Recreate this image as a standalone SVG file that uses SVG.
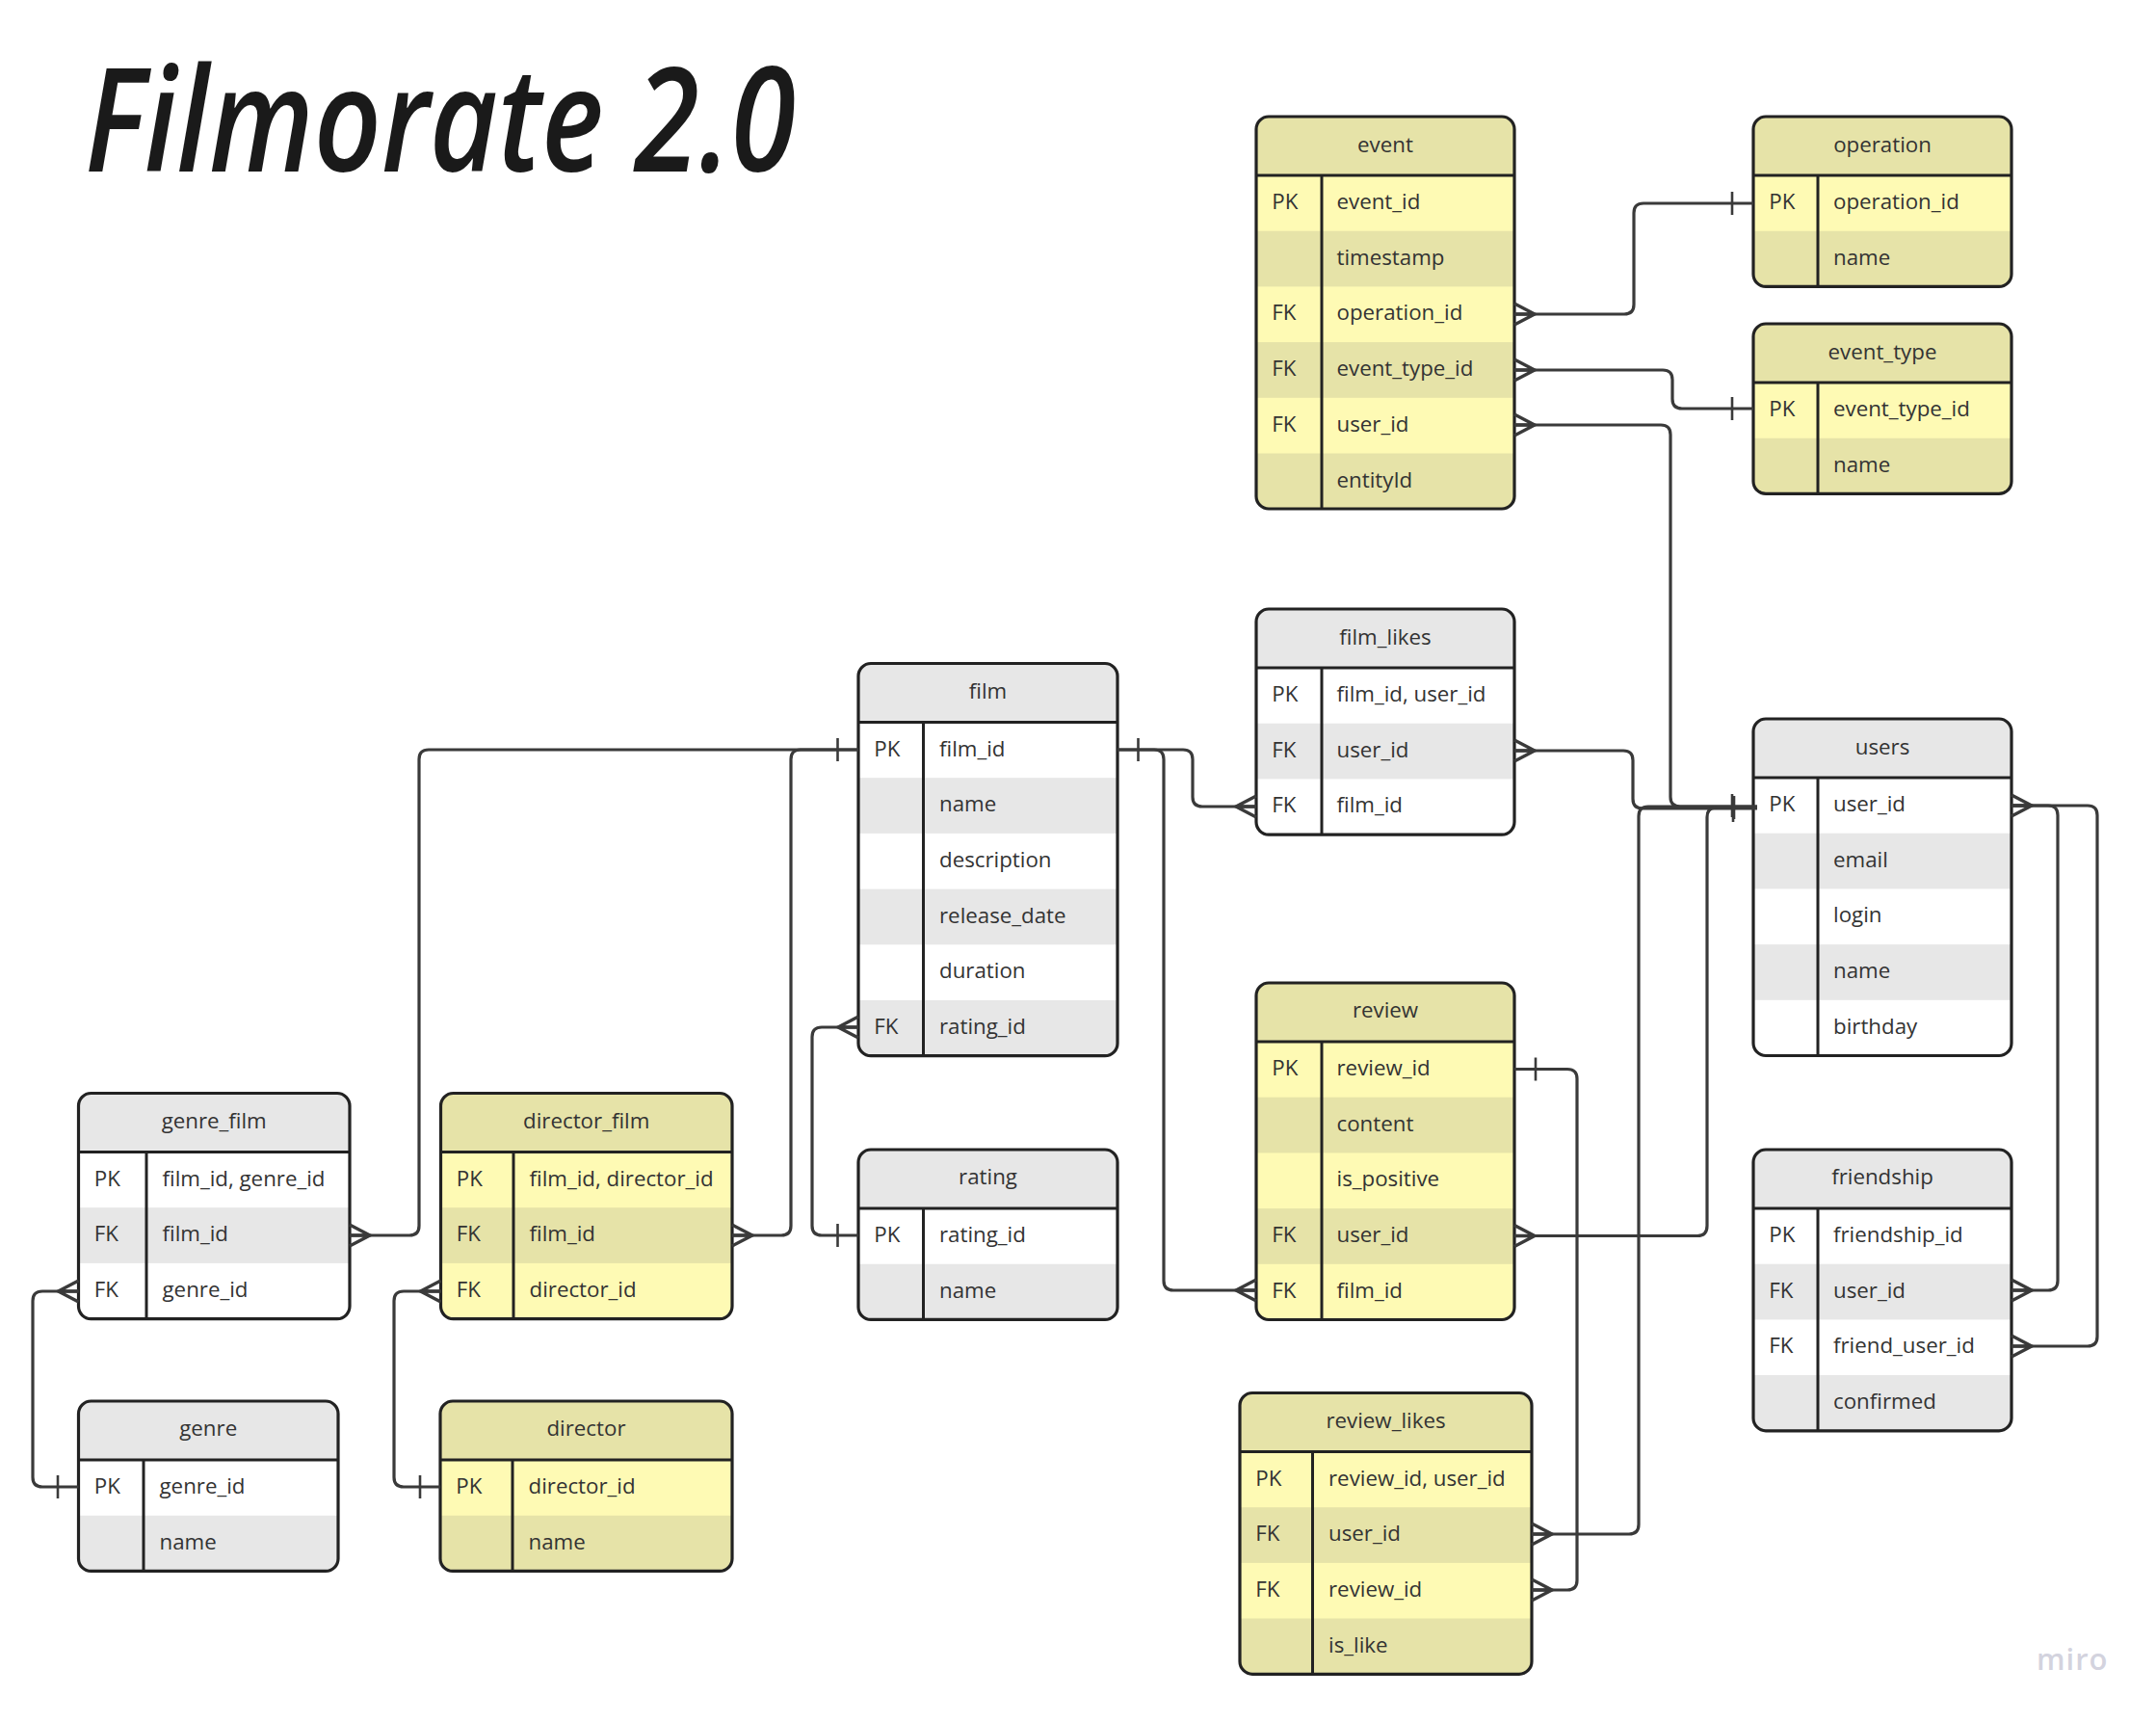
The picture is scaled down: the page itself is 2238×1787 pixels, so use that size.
<svg xmlns="http://www.w3.org/2000/svg" xmlns:xlink="http://www.w3.org/1999/xlink" width="2238" height="1787" viewBox="0 0 2238 1787">
<style>
text{font-family:"Open Sans","Noto Sans","Liberation Sans",sans-serif;font-size:22.3px;fill:#333}
.h{text-anchor:middle}
.title{font-family:"Open Sans","Liberation Sans",sans-serif;font-size:150px;font-weight:600;font-style:italic;fill:#1a1a1a}
.miro{font-family:"Open Sans","Noto Sans",sans-serif;font-size:31px;font-weight:600;fill:#d3d3de;letter-spacing:1px}
.b{fill:none;stroke:#222;stroke-width:3.2}
.l{stroke:#222;stroke-width:3;fill:none}
.wt{fill:#fff}.gh{fill:#e7e7e7}.yl{fill:#fefab4}.yh{fill:#e6e3a8}
.c path{fill:none;stroke:#3a3a3a;stroke-width:3.2}
.k{fill:none;stroke:#3a3a3a;stroke-width:3.4}
.bar{fill:none;stroke:#3a3a3a;stroke-width:2.6}
</style>
<defs>
<path id="cr" class="k" d="M0 -11L21 0L0 11M0 0H21"/>
<path id="cl" class="k" d="M0 -11L-21 0L0 11M0 0H-21"/>
<path id="bar" class="bar" d="M0 -12V12"/>
</defs>
<rect width="2238" height="1787" fill="#fff"/>
<text class="title" x="88" y="178" textLength="738" lengthAdjust="spacingAndGlyphs">Filmorate 2.0</text>
<text class="miro" x="2114" y="1733">miro</text>

<g id="event" transform="translate(1304,121)">
<rect class="yl" width="268" height="407" rx="13"/>
<path class="yh" d="M0 61V13a13 13 0 0 1 13-13H255a13 13 0 0 1 13 13V61Z"/>
<rect class="yh" y="118.7" width="268" height="57.7"/><rect class="yh" y="234.1" width="268" height="57.7"/>
<path class="yh" d="M0 349.5H268V394a13 13 0 0 1-13 13H13a13 13 0 0 1-13-13Z"/>
<path class="l" d="M0 61H268M68 61V407"/><rect class="b" width="268" height="407" rx="13"/>
<text class="h" x="134" y="36.5">event</text>
<text x="16.3" y="96">PK</text><text x="83.5" y="96">event_id</text>
<text x="83.5" y="153.7">timestamp</text>
<text x="16.3" y="211.4">FK</text><text x="83.5" y="211.4">operation_id</text>
<text x="16.3" y="269.1">FK</text><text x="83.5" y="269.1">event_type_id</text>
<text x="16.3" y="326.8">FK</text><text x="83.5" y="326.8">user_id</text>
<text x="83.5" y="384.5">entityId</text>
</g>

<g id="operation" transform="translate(1820,121)">
<rect class="yl" width="268" height="176.4" rx="13"/>
<path class="yh" d="M0 61V13a13 13 0 0 1 13-13H255a13 13 0 0 1 13 13V61Z"/>
<path class="yh" d="M0 118.7H268V163.4a13 13 0 0 1-13 13H13a13 13 0 0 1-13-13Z"/>
<path class="l" d="M0 61H268M67 61V176.4"/><rect class="b" width="268" height="176.4" rx="13"/>
<text class="h" x="134" y="36.5">operation</text>
<text x="16.3" y="96">PK</text><text x="83" y="96">operation_id</text>
<text x="83" y="153.7">name</text>
</g>

<g id="event_type" transform="translate(1820,336)">
<rect class="yl" width="268" height="176.4" rx="13"/>
<path class="yh" d="M0 61V13a13 13 0 0 1 13-13H255a13 13 0 0 1 13 13V61Z"/>
<path class="yh" d="M0 118.7H268V163.4a13 13 0 0 1-13 13H13a13 13 0 0 1-13-13Z"/>
<path class="l" d="M0 61H268M67 61V176.4"/><rect class="b" width="268" height="176.4" rx="13"/>
<text class="h" x="134" y="36.5">event_type</text>
<text x="16.3" y="96">PK</text><text x="83" y="96">event_type_id</text>
<text x="83" y="153.7">name</text>
</g>

<g id="film_likes" transform="translate(1304,632)">
<rect class="wt" width="268" height="234.1" rx="13"/>
<path class="gh" d="M0 61V13a13 13 0 0 1 13-13H255a13 13 0 0 1 13 13V61Z"/>
<rect class="gh" y="118.7" width="268" height="57.7"/>
<path class="l" d="M0 61H268M68 61V234.1"/><rect class="b" width="268" height="234.1" rx="13"/>
<text class="h" x="134" y="36.5">film_likes</text>
<text x="16.3" y="96">PK</text><text x="83.5" y="96">film_id, user_id</text>
<text x="16.3" y="153.7">FK</text><text x="83.5" y="153.7">user_id</text>
<text x="16.3" y="211.4">FK</text><text x="83.5" y="211.4">film_id</text>
</g>

<g id="film" transform="translate(891,688.5)">
<rect class="wt" width="269" height="407.2" rx="13"/>
<path class="gh" d="M0 61V13a13 13 0 0 1 13-13H256a13 13 0 0 1 13 13V61Z"/>
<rect class="gh" y="118.7" width="269" height="57.7"/><rect class="gh" y="234.1" width="269" height="57.7"/>
<path class="gh" d="M0 349.5H269V394.2a13 13 0 0 1-13 13H13a13 13 0 0 1-13-13Z"/>
<path class="l" d="M0 61H269M67.5 61V407.2"/><rect class="b" width="269" height="407.2" rx="13"/>
<text class="h" x="134.5" y="36">film</text>
<text x="16.3" y="96">PK</text><text x="84" y="96">film_id</text>
<text x="84" y="153.7">name</text>
<text x="84" y="211.4">description</text>
<text x="84" y="269.1">release_date</text>
<text x="84" y="326.8">duration</text>
<text x="16.3" y="384.5">FK</text><text x="84" y="384.5">rating_id</text>
</g>

<g id="users" transform="translate(1820,746)">
<rect class="wt" width="268" height="349.5" rx="13"/>
<path class="gh" d="M0 61V13a13 13 0 0 1 13-13H255a13 13 0 0 1 13 13V61Z"/>
<rect class="gh" y="118.7" width="268" height="57.7"/><rect class="gh" y="234.1" width="268" height="57.7"/>
<path class="l" d="M0 61H268M67 61V349.5"/><rect class="b" width="268" height="349.5" rx="13"/>
<text class="h" x="134" y="36.5">users</text>
<text x="16.3" y="96">PK</text><text x="83" y="96">user_id</text>
<text x="83" y="153.7">email</text>
<text x="83" y="211.4">login</text>
<text x="83" y="269.1">name</text>
<text x="83" y="326.8">birthday</text>
</g>

<g id="review" transform="translate(1304,1020)">
<rect class="yl" width="268" height="349.5" rx="13"/>
<path class="yh" d="M0 61V13a13 13 0 0 1 13-13H255a13 13 0 0 1 13 13V61Z"/>
<rect class="yh" y="118.7" width="268" height="57.7"/><rect class="yh" y="234.1" width="268" height="57.7"/>
<path class="l" d="M0 61H268M68 61V349.5"/><rect class="b" width="268" height="349.5" rx="13"/>
<text class="h" x="134" y="36">review</text>
<text x="16.3" y="96">PK</text><text x="83.5" y="96">review_id</text>
<text x="83.5" y="153.7">content</text>
<text x="83.5" y="211.4">is_positive</text>
<text x="16.3" y="269.1">FK</text><text x="83.5" y="269.1">user_id</text>
<text x="16.3" y="326.8">FK</text><text x="83.5" y="326.8">film_id</text>
</g>

<g id="rating" transform="translate(891,1193)">
<rect class="wt" width="269" height="176.4" rx="13"/>
<path class="gh" d="M0 61V13a13 13 0 0 1 13-13H256a13 13 0 0 1 13 13V61Z"/>
<path class="gh" d="M0 118.7H269V163.4a13 13 0 0 1-13 13H13a13 13 0 0 1-13-13Z"/>
<path class="l" d="M0 61H269M67.5 61V176.4"/><rect class="b" width="269" height="176.4" rx="13"/>
<text class="h" x="134.5" y="36">rating</text>
<text x="16.3" y="96">PK</text><text x="84" y="96">rating_id</text>
<text x="84" y="153.7">name</text>
</g>

<g id="friendship" transform="translate(1820,1193)">
<rect class="wt" width="268" height="291.8" rx="13"/>
<path class="gh" d="M0 61V13a13 13 0 0 1 13-13H255a13 13 0 0 1 13 13V61Z"/>
<rect class="gh" y="118.7" width="268" height="57.7"/>
<path class="gh" d="M0 234.1H268V278.8a13 13 0 0 1-13 13H13a13 13 0 0 1-13-13Z"/>
<path class="l" d="M0 61H268M67 61V291.8"/><rect class="b" width="268" height="291.8" rx="13"/>
<text class="h" x="134" y="36">friendship</text>
<text x="16.3" y="96">PK</text><text x="83" y="96">friendship_id</text>
<text x="16.3" y="153.7">FK</text><text x="83" y="153.7">user_id</text>
<text x="16.3" y="211.4">FK</text><text x="83" y="211.4">friend_user_id</text>
<text x="83" y="269.1">confirmed</text>
</g>

<g id="review_likes" transform="translate(1287,1445.5)">
<rect class="yl" width="303" height="291.8" rx="13"/>
<path class="yh" d="M0 61V13a13 13 0 0 1 13-13H290a13 13 0 0 1 13 13V61Z"/>
<rect class="yh" y="118.7" width="303" height="57.7"/>
<path class="yh" d="M0 234.1H303V278.8a13 13 0 0 1-13 13H13a13 13 0 0 1-13-13Z"/>
<path class="l" d="M0 61H303M75.5 61V291.8"/><rect class="b" width="303" height="291.8" rx="13"/>
<text class="h" x="151.5" y="36">review_likes</text>
<text x="16.3" y="96">PK</text><text x="92" y="96">review_id, user_id</text>
<text x="16.3" y="153.7">FK</text><text x="92" y="153.7">user_id</text>
<text x="16.3" y="211.4">FK</text><text x="92" y="211.4">review_id</text>
<text x="92" y="269.1">is_like</text>
</g>

<g id="genre_film" transform="translate(81.5,1134.5)">
<rect class="wt" width="281.5" height="234.1" rx="13"/>
<path class="gh" d="M0 61V13a13 13 0 0 1 13-13H268.5a13 13 0 0 1 13 13V61Z"/>
<rect class="gh" y="118.7" width="281.5" height="57.7"/>
<path class="l" d="M0 61H281.5M70.5 61V234.1"/><rect class="b" width="281.5" height="234.1" rx="13"/>
<text class="h" x="140.7" y="36">genre_film</text>
<text x="16.3" y="96">PK</text><text x="87" y="96">film_id, genre_id</text>
<text x="16.3" y="153.7">FK</text><text x="87" y="153.7">film_id</text>
<text x="16.3" y="211.4">FK</text><text x="87" y="211.4">genre_id</text>
</g>

<g id="director_film" transform="translate(457.5,1134.5)">
<rect class="yl" width="302.5" height="234.1" rx="13"/>
<path class="yh" d="M0 61V13a13 13 0 0 1 13-13H289.5a13 13 0 0 1 13 13V61Z"/>
<rect class="yh" y="118.7" width="302.5" height="57.7"/>
<path class="l" d="M0 61H302.5M75.5 61V234.1"/><rect class="b" width="302.5" height="234.1" rx="13"/>
<text class="h" x="151.2" y="36">director_film</text>
<text x="16.3" y="96">PK</text><text x="92" y="96">film_id, director_id</text>
<text x="16.3" y="153.7">FK</text><text x="92" y="153.7">film_id</text>
<text x="16.3" y="211.4">FK</text><text x="92" y="211.4">director_id</text>
</g>

<g id="genre" transform="translate(81.5,1454)">
<rect class="wt" width="269.5" height="176.4" rx="13"/>
<path class="gh" d="M0 61V13a13 13 0 0 1 13-13H256.5a13 13 0 0 1 13 13V61Z"/>
<path class="gh" d="M0 118.7H269.5V163.4a13 13 0 0 1-13 13H13a13 13 0 0 1-13-13Z"/>
<path class="l" d="M0 61H269.5M67.5 61V176.4"/><rect class="b" width="269.5" height="176.4" rx="13"/>
<text class="h" x="134.7" y="36">genre</text>
<text x="16.3" y="96">PK</text><text x="84" y="96">genre_id</text>
<text x="84" y="153.7">name</text>
</g>

<g id="director" transform="translate(457,1454)">
<rect class="yl" width="303" height="176.4" rx="13"/>
<path class="yh" d="M0 61V13a13 13 0 0 1 13-13H290a13 13 0 0 1 13 13V61Z"/>
<path class="yh" d="M0 118.7H303V163.4a13 13 0 0 1-13 13H13a13 13 0 0 1-13-13Z"/>
<path class="l" d="M0 61H303M75 61V176.4"/><rect class="b" width="303" height="176.4" rx="13"/>
<text class="h" x="151.5" y="36">director</text>
<text x="16.3" y="96">PK</text><text x="91.5" y="96">director_id</text>
<text x="91.5" y="153.7">name</text>
</g>

<g id="connectors" class="c">
<path d="M1572 326H1686Q1696 326 1696 316V221Q1696 211 1706 211H1820"/>
<path d="M1572 384H1726Q1736 384 1736 394V414Q1736 424 1746 424H1820"/>
<path d="M1572 441H1724Q1734 441 1734 451V827Q1734 837 1744 837H1824"/>
<path d="M1572 779H1685Q1695 779 1695 789V829Q1695 839 1705 839H1824"/>
<path d="M1590 1592H1691Q1701 1592 1701 1582V847Q1701 837 1711 837H1824"/>
<path d="M1572 1282.5H1762Q1772 1282.5 1772 1272V848Q1772 838 1782 838H1824"/>
<path d="M2088 836H2126Q2136 836 2136 846V1329Q2136 1339 2126 1339H2088"/>
<path d="M2088 836H2167Q2177 836 2177 846V1387Q2177 1397 2167 1397H2088"/>
<path d="M1160 778H1228Q1238 778 1238 788V827Q1238 837 1248 837H1304"/>
<path d="M1160 778H1198Q1208 778 1208 788V1329Q1208 1339 1218 1339H1304"/>
<path d="M891 778H445Q435 778 435 788V1272Q435 1282 425 1282H363"/>
<path d="M891 778H831Q821 778 821 788V1272Q821 1282 811 1282H760"/>
<path d="M891 1066H853Q843 1066 843 1076V1272Q843 1282 853 1282H891"/>
<path d="M81.5 1340H44Q34 1340 34 1350V1533Q34 1543 44 1543H81.5"/>
<path d="M457.5 1340H419Q409 1340 409 1350V1533Q409 1543 419 1543H457"/>
<path d="M1572 1109.5H1627Q1637 1109.5 1637 1119.5V1640Q1637 1650 1627 1650H1590"/>
<use xlink:href="#cr" href="#cr" x="1572" y="326"/>
<use xlink:href="#cr" href="#cr" x="1572" y="384"/>
<use xlink:href="#cr" href="#cr" x="1572" y="441"/>
<use xlink:href="#cr" href="#cr" x="1572" y="779"/>
<use xlink:href="#cr" href="#cr" x="1590" y="1592"/>
<use xlink:href="#cr" href="#cr" x="1572" y="1282.5"/>
<use xlink:href="#cr" href="#cr" x="2088" y="836"/>
<use xlink:href="#cr" href="#cr" x="2088" y="1339"/>
<use xlink:href="#cr" href="#cr" x="2088" y="1397"/>
<use xlink:href="#cr" href="#cr" x="363" y="1282"/>
<use xlink:href="#cr" href="#cr" x="760" y="1282"/>
<use xlink:href="#cr" href="#cr" x="1590" y="1650"/>
<use xlink:href="#cl" href="#cl" x="1304" y="837"/>
<use xlink:href="#cl" href="#cl" x="1304" y="1339"/>
<use xlink:href="#cl" href="#cl" x="891" y="1066"/>
<use xlink:href="#cl" href="#cl" x="81.5" y="1340"/>
<use xlink:href="#cl" href="#cl" x="457.5" y="1340"/>
<use xlink:href="#bar" href="#bar" x="1798" y="211"/>
<use xlink:href="#bar" href="#bar" x="1798" y="424"/>
<use xlink:href="#bar" href="#bar" x="1798" y="836"/>
<use xlink:href="#bar" href="#bar" x="1799" y="841"/>
<use xlink:href="#bar" href="#bar" x="1800" y="838"/>
<use xlink:href="#bar" href="#bar" x="1181.5" y="778"/>
<use xlink:href="#bar" href="#bar" x="869.5" y="778"/>
<use xlink:href="#bar" href="#bar" x="869.5" y="1282"/>
<use xlink:href="#bar" href="#bar" x="60" y="1543"/>
<use xlink:href="#bar" href="#bar" x="436" y="1543"/>
<use xlink:href="#bar" href="#bar" x="1594" y="1109.5"/>
</g>
</svg>
